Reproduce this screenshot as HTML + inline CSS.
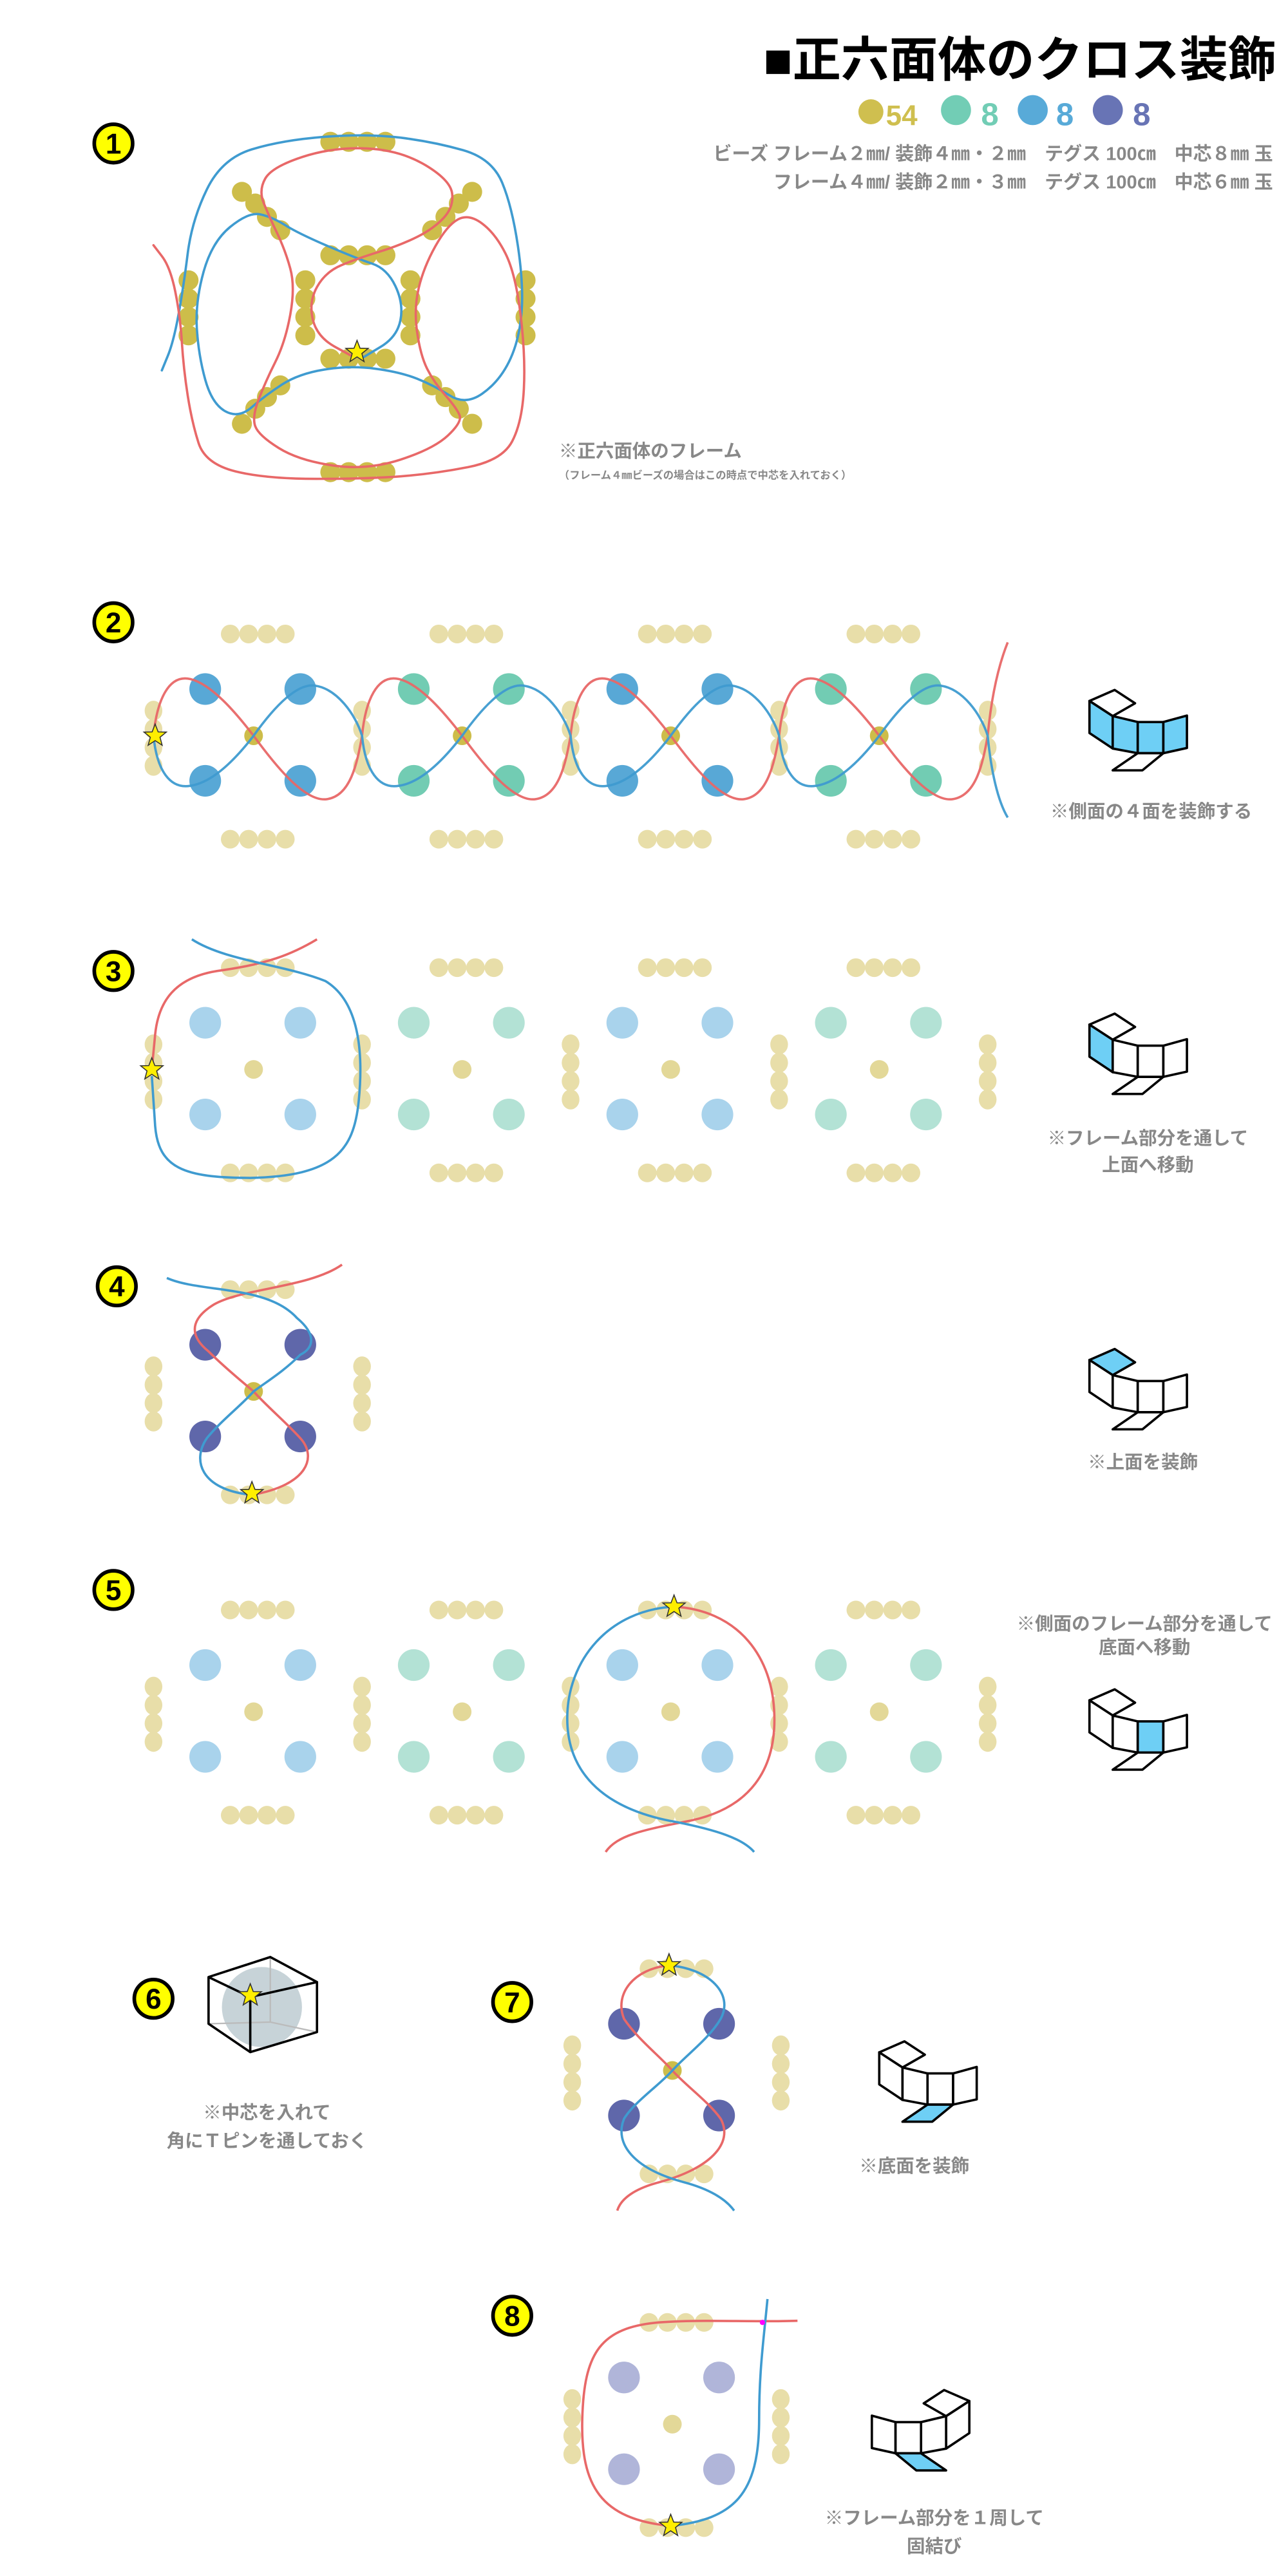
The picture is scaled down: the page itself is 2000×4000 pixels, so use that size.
<!DOCTYPE html>
<html><head><meta charset="utf-8"><style>
html,body{margin:0;padding:0;background:#fff;}
svg{display:block;}
text{font-family:"Liberation Sans","Noto Sans CJK JP",sans-serif;font-weight:bold;}
.cap{fill:#888;font-size:11px;}
</style></head><body>
<svg width="2000" height="4000" viewBox="0 0 772 1544" xmlns="http://www.w3.org/2000/svg" xmlns:xlink="http://www.w3.org/1999/xlink">
<defs>
<g id="tb"><circle cx="138" cy="380" r="5.6"/><circle cx="149" cy="380" r="5.6"/><circle cx="160" cy="380" r="5.6"/><circle cx="171" cy="380" r="5.6"/>
<circle cx="138" cy="503" r="5.6"/><circle cx="149" cy="503" r="5.6"/><circle cx="160" cy="503" r="5.6"/><circle cx="171" cy="503" r="5.6"/></g>
<g id="col"><ellipse cx="92" cy="426" rx="5.3" ry="6"/><ellipse cx="92" cy="437" rx="5.3" ry="6"/><ellipse cx="92" cy="448" rx="5.3" ry="6"/><ellipse cx="92" cy="459" rx="5.3" ry="6"/></g>
<g id="deco"><circle cx="123" cy="413" r="9.5"/><circle cx="180" cy="413" r="9.5"/><circle cx="123" cy="468" r="9.5"/><circle cx="180" cy="468" r="9.5"/></g>
<circle id="ctr" cx="152" cy="441" r="5.6"/>
<polygon id="star" points="0,-7 1.8,-2.3 6.7,-2.2 2.9,0.9 4.2,5.7 0,2.9 -4.2,5.7 -2.9,0.9 -6.7,-2.2 -1.8,-2.3" fill="#ffee00" stroke="#333" stroke-width="0.6"/>
</defs>

<!-- Title -->
<text x="765" y="46" font-size="29" text-anchor="end" fill="#000" font-weight="900">■正六面体のクロス装飾</text>
<circle cx="522" cy="67" r="7.5" fill="#cfbf4f"/><text x="531" y="75" font-size="17" fill="#cfbf4f">54</text>
<circle cx="573" cy="66" r="9" fill="#72cdb5"/><text x="588" y="75" font-size="19" fill="#72cdb5">8</text>
<circle cx="619" cy="66" r="9" fill="#58aad8"/><text x="633" y="75" font-size="19" fill="#58aad8">8</text>
<circle cx="664" cy="66" r="9" fill="#6874b5"/><text x="679" y="75" font-size="19" fill="#6874b5">8</text>
<text x="763" y="96" font-size="11.2" text-anchor="end" fill="#888">ビーズ フレーム２㎜/ 装飾４㎜・２㎜　テグス 100㎝　中芯８㎜ 玉</text>
<text x="763" y="113" font-size="11.2" text-anchor="end" fill="#888">フレーム４㎜/ 装飾２㎜・３㎜　テグス 100㎝　中芯６㎜ 玉</text>

<!-- Step numbers -->
<g stroke="#000" stroke-width="2.2" fill="#ffff00">
<circle cx="68" cy="86" r="11.5"/><circle cx="68" cy="373" r="11.5"/><circle cx="68" cy="582" r="11.5"/><circle cx="70" cy="771" r="11.5"/>
<circle cx="68" cy="953" r="11.5"/><circle cx="92" cy="1198" r="11.5"/><circle cx="307" cy="1200" r="11.5"/><circle cx="307" cy="1388" r="11.5"/></g>
<g font-size="17" text-anchor="middle" fill="#000" font-weight="900">
<text x="68" y="92">1</text><text x="68" y="379">2</text><text x="68" y="588">3</text><text x="70" y="777">4</text>
<text x="68" y="959">5</text><text x="92" y="1204">6</text><text x="307" y="1206">7</text><text x="307" y="1394">8</text></g>

<!-- STEP 1 -->
<g fill="#cdbd4a">
<g id="row1"><circle cx="198" cy="85" r="6"/><circle cx="209" cy="85" r="6"/><circle cx="220" cy="85" r="6"/><circle cx="231" cy="85" r="6"/></g>
<use xlink:href="#row1" y="68"/><use xlink:href="#row1" y="130"/><use xlink:href="#row1" y="198"/>
<g id="c1"><circle cx="113" cy="168" r="6"/><circle cx="113" cy="179" r="6"/><circle cx="113" cy="190" r="6"/><circle cx="113" cy="201" r="6"/></g>
<use xlink:href="#c1" x="202"/><use xlink:href="#c1" x="70"/><use xlink:href="#c1" x="133"/>
<circle cx="145" cy="115" r="6"/><circle cx="153" cy="122" r="6"/><circle cx="160" cy="130" r="6"/><circle cx="168" cy="138" r="6"/>
<circle cx="283" cy="115" r="6"/><circle cx="275" cy="122" r="6"/><circle cx="267" cy="130" r="6"/><circle cx="259" cy="138" r="6"/>
<circle cx="145" cy="254" r="6"/><circle cx="153" cy="245" r="6"/><circle cx="160" cy="238" r="6"/><circle cx="168" cy="231" r="6"/>
<circle cx="283" cy="254" r="6"/><circle cx="275" cy="245" r="6"/><circle cx="267" cy="238" r="6"/><circle cx="259" cy="231" r="6"/>
</g>
<g fill="none" stroke-width="1.4" stroke-linejoin="round" stroke-linecap="round">
<path stroke="#3f9bd0" d="M97,222 L100.5,213.5 Q104,205 107,188.5 Q110,172 112.5,152 Q115,132 124,113.5 Q133,95 151,89.5 Q169,84 194.5,82 Q220,80 240,82.5 Q260,85 277.5,90 Q295,95 301,109.5 Q307,124 310.5,148 Q314,172 312.5,188.5 Q311,205 305,217 Q299,229 289,236 Q279,243 269.5,237 Q260,231 250,227 Q240,223 225,221 Q210,219 194.5,221.5 Q179,224 169,230.5 Q159,237 151,244 Q143,251 135,246.5 Q127,242 123,227.5 Q119,213 118,197 Q117,181 122,163 Q127,145 138,136 Q149,127 156,128.5 Q163,130 171,135 Q179,140 196.5,147.5 Q214,155 223,158 Q232,161 237,171.5 Q242,182 240,192 Q238,202 228,208 L218,214"/>
<path stroke="#e86868" d="M92,147 L97,153.5 Q102,160 105,174.5 Q108,189 109,205 Q110,221 112.5,237 Q115,253 119,265.5 Q123,278 141,282.5 Q159,287 189.5,287 Q220,287 240,285.5 Q260,284 280.5,280 Q301,276 307,264.5 Q313,253 314,233 Q315,213 312,188.5 Q309,164 303,152 Q297,140 289,134 Q281,128 274.5,131.5 Q268,135 261,147.5 Q254,160 251,172.5 Q248,185 250,199 Q252,213 256,221 Q260,229 267,237 Q274,245 275.5,249 Q277,253 268.5,261 Q260,269 240,275.5 Q220,282 199.5,279 Q179,276 167,268.5 Q155,261 153,255.5 Q151,250 155,239.5 Q159,229 165,217 Q171,205 174,188.5 Q177,172 174,161 Q171,150 166,139.5 Q161,129 158,121.5 Q155,114 159,107 Q163,100 181.5,94 Q200,88 220,89 Q240,90 255,99 Q270,108 271,116 Q272,124 266,130.5 Q260,137 250,142 Q240,147 227,151 Q214,155 204.5,159 Q195,163 190,172 Q185,181 187.5,191.5 Q190,202 201,208 L212,214"/>
</g>
<use xlink:href="#star" x="214" y="211"/>
<text x="335" y="274" class="cap" font-size="10.5">※正六面体のフレーム</text>
<text x="335" y="287" fill="#888" font-size="6.3">（フレーム４㎜ビーズの場合はこの時点で中芯を入れておく）</text>

<!-- STEP 2 -->
<g fill="#e8dea9">
<use xlink:href="#tb"/><use xlink:href="#tb" x="125"/><use xlink:href="#tb" x="250"/><use xlink:href="#tb" x="375"/>
<use xlink:href="#col"/><use xlink:href="#col" x="125"/><use xlink:href="#col" x="250"/><use xlink:href="#col" x="375"/><use xlink:href="#col" x="500"/>
</g>
<use xlink:href="#deco" fill="#58a8d6"/><use xlink:href="#deco" x="125" fill="#72ccb3"/><use xlink:href="#deco" x="250" fill="#58a8d6"/><use xlink:href="#deco" x="375" fill="#72ccb3"/>
<g fill="#cdbd4a"><use xlink:href="#ctr"/><use xlink:href="#ctr" x="125"/><use xlink:href="#ctr" x="250"/><use xlink:href="#ctr" x="375"/></g>
<g fill="none" stroke-width="1.4" opacity="0.95">
<path stroke="#e86868" d="M92,441 C94,420 101,404 114,407 C127,410 142,428 152,441 C163,456 182,481 196,479 C210,477 214,458 217,441 C219,420 226,404 239,407 C252,410 267,428 277,441 C288,456 307,481 321,479 C335,477 339,458 342,441 C344,420 351,404 364,407 C377,410 392,428 402,441 C413,456 432,481 446,479 C460,477 464,458 467,441 C469,420 476,404 489,407 C502,410 517,428 527,441 C538,456 557,481 571,479 C585,477 589,458 592,441 C594,420 598,400 604,385"/>
<path stroke="#3f9bd0" d="M92,441 C94,462 102,473 114,471 C128,469 142,454 152,441 C162,427 177,409 189,411 C202,413 213,428 217,441 C219,462 227,473 239,471 C253,469 267,454 277,441 C287,427 302,409 314,411 C327,413 338,428 342,441 C344,462 352,473 364,471 C378,469 392,454 402,441 C412,427 427,409 439,411 C452,413 463,428 467,441 C469,462 477,473 489,471 C503,469 517,454 527,441 C537,427 552,409 564,411 C577,413 588,428 592,441 C594,462 598,480 604,490"/>
</g>
<use xlink:href="#star" x="93" y="441"/>

<!-- STEP 3 -->
<g transform="translate(0,200)">
<g fill="#e8dea9">
<use xlink:href="#tb"/><use xlink:href="#tb" x="125"/><use xlink:href="#tb" x="250"/><use xlink:href="#tb" x="375"/>
<use xlink:href="#col"/><use xlink:href="#col" x="125"/><use xlink:href="#col" x="250"/><use xlink:href="#col" x="375"/><use xlink:href="#col" x="500"/>
</g>
<use xlink:href="#deco" fill="#a9d3ec"/><use xlink:href="#deco" x="125" fill="#b3e2d5"/><use xlink:href="#deco" x="250" fill="#a9d3ec"/><use xlink:href="#deco" x="375" fill="#b3e2d5"/>
<g fill="#e3d898"><use xlink:href="#ctr"/><use xlink:href="#ctr" x="125"/><use xlink:href="#ctr" x="250"/><use xlink:href="#ctr" x="375"/></g>
</g>
<g fill="none" stroke-width="1.4">
<path stroke="#e86868" d="M190,563 C175,572 160,578 130,582 C105,586 95,600 93,620 L91,641"/>
<path stroke="#3f9bd0" d="M115,563 C135,576 170,578 195,588 C215,600 218,630 215,660 C212,690 200,705 150,706 C110,706 95,700 93,675 L91,645"/>
</g>
<use xlink:href="#star" x="91" y="641"/>

<!-- STEP 4 -->
<g transform="translate(0,393)">
<g fill="#e8dea9"><use xlink:href="#tb"/><use xlink:href="#col"/><use xlink:href="#col" x="125"/></g>
<use xlink:href="#deco" fill="#5f67aa"/>
<use xlink:href="#ctr" fill="#cdbd4a"/>
</g>
<g fill="none" stroke-width="1.4">
<path stroke="#e86868" d="M205,758 C185,772 145,772 128,782 C112,792 115,802 125,810 C135,820 145,828 152,834 C160,843 172,853 180,862 C190,873 185,890 151,896"/>
<path stroke="#3f9bd0" d="M100,766 C120,775 160,770 178,790 C190,800 188,808 180,812 C170,822 160,828 152,834 C145,842 132,852 124,862 C115,875 120,893 151,896"/>
</g>
<use xlink:href="#star" x="151" y="895"/>

<!-- STEP 5 -->
<g transform="translate(0,585)">
<g fill="#e8dea9">
<use xlink:href="#tb"/><use xlink:href="#tb" x="125"/><use xlink:href="#tb" x="250"/><use xlink:href="#tb" x="375"/>
<use xlink:href="#col"/><use xlink:href="#col" x="125"/><use xlink:href="#col" x="250"/><use xlink:href="#col" x="375"/><use xlink:href="#col" x="500"/>
</g>
<use xlink:href="#deco" fill="#a9d3ec"/><use xlink:href="#deco" x="125" fill="#b3e2d5"/><use xlink:href="#deco" x="250" fill="#a9d3ec"/><use xlink:href="#deco" x="375" fill="#b3e2d5"/>
<g fill="#e3d898"><use xlink:href="#ctr"/><use xlink:href="#ctr" x="125"/><use xlink:href="#ctr" x="250"/><use xlink:href="#ctr" x="375"/></g>
</g>
<g fill="none" stroke-width="1.4">
<path stroke="#e86868" d="M404,963 C440,965 462,990 464,1025 C466,1060 450,1085 410,1092 C385,1097 370,1100 363,1110"/>
<path stroke="#3f9bd0" d="M404,963 C365,965 340,995 340,1030 C340,1065 365,1085 405,1092 C430,1097 445,1102 452,1110"/>
</g>
<use xlink:href="#star" x="404" y="963"/>

<!-- STEP 6 -->
<circle cx="157" cy="1203" r="24" fill="#c7d3d8"/>
<g fill="none" stroke="#bbb" stroke-width="0.9"><path d="M162,1173 L162,1212 L125,1213 M162,1212 L190,1218"/></g>
<g fill="none" stroke="#000" stroke-width="1.4" stroke-linejoin="round">
<path d="M125,1185 L162,1173 L190,1188 L150,1197 Z M125,1185 L125,1213 L150,1230 L190,1218 L190,1188 M150,1197 L150,1230"/>
</g>
<use xlink:href="#star" x="150" y="1196"/>
<text x="160" y="1270" class="cap" text-anchor="middle">※中芯を入れて</text>
<text x="160" y="1287" class="cap" text-anchor="middle">角にＴピンを通しておく</text>

<!-- STEP 7 -->
<g transform="translate(251,800)">
<g fill="#e8dea9"><use xlink:href="#tb"/><use xlink:href="#col"/><use xlink:href="#col" x="125"/></g>
<use xlink:href="#deco" fill="#5f67aa"/>
<use xlink:href="#ctr" fill="#cdbd4a"/>
</g>
<g fill="none" stroke-width="1.4">
<path stroke="#e86868" d="M401,1178 C380,1180 368,1195 374,1210 C382,1222 395,1232 403,1241 C411,1250 425,1260 432,1270 C440,1285 425,1300 395,1308 C380,1312 372,1318 370,1325"/>
<path stroke="#3f9bd0" d="M401,1178 C425,1180 440,1195 432,1210 C425,1222 411,1232 403,1241 C395,1250 380,1260 374,1270 C368,1285 380,1300 410,1308 C425,1312 435,1318 440,1325"/>
</g>
<use xlink:href="#star" x="401" y="1178"/>

<!-- STEP 8 -->
<g transform="translate(251,1012)">
<g fill="#e8dea9"><use xlink:href="#tb"/><use xlink:href="#col"/><use xlink:href="#col" x="125"/></g>
<use xlink:href="#deco" fill="#b0b5d9"/>
<use xlink:href="#ctr" fill="#e3d898"/>
</g>
<g fill="none" stroke-width="1.4">
<path stroke="#e86868" d="M478,1391 C450,1392 420,1390 395,1392 C360,1395 350,1410 349,1450 C348,1490 360,1510 402,1514"/>
<path stroke="#3f9bd0" d="M402,1514 C440,1510 455,1495 455,1450 C455,1420 458,1400 460,1378"/>
</g>
<circle cx="457" cy="1392" r="1.6" fill="#ff00ff"/>
<use xlink:href="#star" x="402" y="1514"/>

<!-- Net icons -->
<g stroke="#000" stroke-width="1.3" stroke-linejoin="round">
<g transform="translate(653,413) scale(1.08)">
<polygon points="0,6.6 14,0.5 25.3,7.9 12.9,15" fill="#fff"/>
<polygon points="0,6.6 12.9,15 12.9,33 0,24.4" fill="#6ecff5"/>
<polygon points="12.9,15 26.8,18.3 26.8,35.6 12.9,33" fill="#6ecff5"/>
<polygon points="26.8,18.3 41,18.3 41,35.6 26.8,35.6" fill="#6ecff5"/>
<polygon points="41,18.3 54.1,14.7 54.1,32.7 41,35.6" fill="#6ecff5"/>
<polygon points="26.8,35.6 41,35.6 29.4,45.1 12.9,45.1" fill="#fff"/>
</g>
<g transform="translate(653,607) scale(1.08)">
<polygon points="0,6.6 14,0.5 25.3,7.9 12.9,15" fill="#fff"/>
<polygon points="0,6.6 12.9,15 12.9,33 0,24.4" fill="#6ecff5"/>
<polygon points="12.9,15 26.8,18.3 26.8,35.6 12.9,33" fill="#fff"/>
<polygon points="26.8,18.3 41,18.3 41,35.6 26.8,35.6" fill="#fff"/>
<polygon points="41,18.3 54.1,14.7 54.1,32.7 41,35.6" fill="#fff"/>
<polygon points="26.8,35.6 41,35.6 29.4,45.1 12.9,45.1" fill="#fff"/>
</g>
<g transform="translate(653,808) scale(1.08)">
<polygon points="0,6.6 14,0.5 25.3,7.9 12.9,15" fill="#6ecff5"/>
<polygon points="0,6.6 12.9,15 12.9,33 0,24.4" fill="#fff"/>
<polygon points="12.9,15 26.8,18.3 26.8,35.6 12.9,33" fill="#fff"/>
<polygon points="26.8,18.3 41,18.3 41,35.6 26.8,35.6" fill="#fff"/>
<polygon points="41,18.3 54.1,14.7 54.1,32.7 41,35.6" fill="#fff"/>
<polygon points="26.8,35.6 41,35.6 29.4,45.1 12.9,45.1" fill="#fff"/>
</g>
<g transform="translate(653,1012) scale(1.08)">
<polygon points="0,6.6 14,0.5 25.3,7.9 12.9,15" fill="#fff"/>
<polygon points="0,6.6 12.9,15 12.9,33 0,24.4" fill="#fff"/>
<polygon points="12.9,15 26.8,18.3 26.8,35.6 12.9,33" fill="#fff"/>
<polygon points="26.8,18.3 41,18.3 41,35.6 26.8,35.6" fill="#6ecff5"/>
<polygon points="41,18.3 54.1,14.7 54.1,32.7 41,35.6" fill="#fff"/>
<polygon points="26.8,35.6 41,35.6 29.4,45.1 12.9,45.1" fill="#fff"/>
</g>
<g transform="translate(527,1223) scale(1.08)">
<polygon points="0,6.6 14,0.5 25.3,7.9 12.9,15" fill="#fff"/>
<polygon points="0,6.6 12.9,15 12.9,33 0,24.4" fill="#fff"/>
<polygon points="12.9,15 26.8,18.3 26.8,35.6 12.9,33" fill="#fff"/>
<polygon points="26.8,18.3 41,18.3 41,35.6 26.8,35.6" fill="#fff"/>
<polygon points="41,18.3 54.1,14.7 54.1,32.7 41,35.6" fill="#fff"/>
<polygon points="26.8,35.6 41,35.6 29.4,45.1 12.9,45.1" fill="#6ecff5"/>
</g>
<g transform="translate(581,1432) scale(-1.08,1.08)">
<polygon points="0,6.6 14,0.5 25.3,7.9 12.9,15" fill="#fff"/>
<polygon points="0,6.6 12.9,15 12.9,33 0,24.4" fill="#fff"/>
<polygon points="12.9,15 26.8,18.3 26.8,35.6 12.9,33" fill="#fff"/>
<polygon points="26.8,18.3 41,18.3 41,35.6 26.8,35.6" fill="#fff"/>
<polygon points="41,18.3 54.1,14.7 54.1,32.7 41,35.6" fill="#fff"/>
<polygon points="26.8,35.6 41,35.6 29.4,45.1 12.9,45.1" fill="#6ecff5"/>
</g>
</g>

<!-- captions -->
<text x="690" y="490" class="cap" text-anchor="middle">※側面の４面を装飾する</text>
<text x="688" y="686" class="cap" text-anchor="middle">※フレーム部分を通して</text>
<text x="688" y="702" class="cap" text-anchor="middle">上面へ移動</text>
<text x="685" y="880" class="cap" text-anchor="middle">※上面を装飾</text>
<text x="686" y="977" class="cap" text-anchor="middle" font-size="9">※側面のフレーム部分を通して</text>
<text x="686" y="991" class="cap" text-anchor="middle" font-size="9">底面へ移動</text>
<text x="548" y="1302" class="cap" text-anchor="middle">※底面を装飾</text>
<text x="560" y="1513" class="cap" text-anchor="middle">※フレーム部分を１周して</text>
<text x="560" y="1530" class="cap" text-anchor="middle">固結び</text>
</svg>
</body></html>
